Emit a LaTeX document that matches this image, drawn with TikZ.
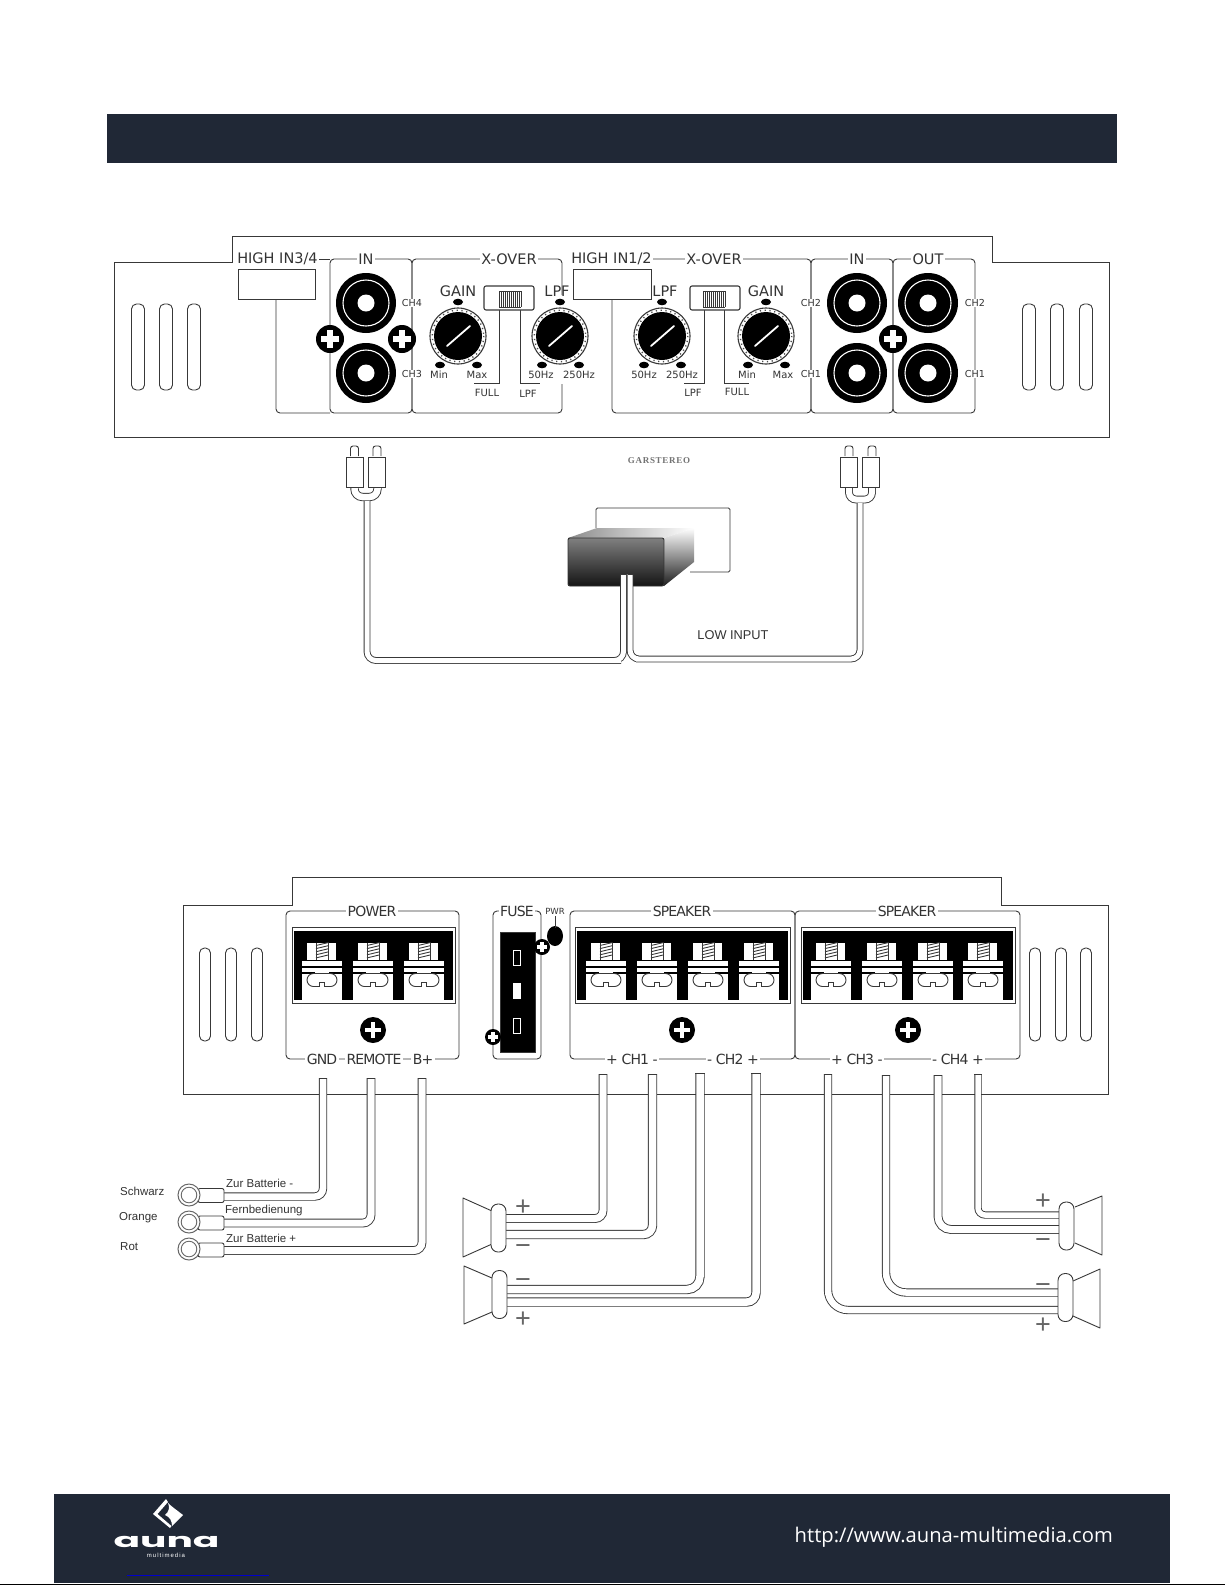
\documentclass[tikz,border=0pt]{standalone}
\usepackage{fontspec}
\setmainfont{DejaVu Sans}
\newfontfamily\vd{DejaVu Sans}
\newfontfamily\vdt[LetterSpace=-6]{DejaVu Sans}
\newfontfamily\arl{Liberation Sans}
\newfontfamily\opn{Open Sans}
\newfontfamily\popp{Poppins}
\newfontfamily\serf[LetterSpace=8]{Liberation Serif}
\definecolor{band}{HTML}{202836}
\definecolor{lc}{gray}{0.22}
\definecolor{tc}{gray}{0.2}
\tikzset{
  line/.style={draw=lc,line width=0.9pt},
  frame/.style={line,rounded corners=4pt},
  vent/.style={line,rounded corners=5pt},
  wire/.style={draw=lc,line width=0.9pt,double=white,double distance=#1},
  wire/.default=7pt,
  lab/.style={font=\vd\fontsize{14.5}{15}\selectfont,text=tc,fill=white,inner sep=1.5pt},
  labsm/.style={font=\vd\fontsize{10}{11}\selectfont,text=tc,inner sep=0.5pt},
  labch/.style={font=\vd\fontsize{9.6}{11}\selectfont,text=tc,fill=white,inner sep=0.5pt},
  labl/.style={font=\vdt\fontsize{14}{15}\selectfont,text=tc,fill=white,inner sep=1.5pt},
  note/.style={font=\arl\fontsize{11.5}{13}\selectfont,text=tc,inner sep=0pt,anchor=west},
  sign/.style={font=\arl\fontsize{27}{27}\selectfont,text=black!60,inner sep=0pt,anchor=base},
  magnet/.style={draw=lc,line width=0.9pt,fill=white,rounded corners=7pt,minimum width=15pt,minimum height=48pt,inner sep=0pt},
  ringt/.style={circle,draw=black!60,line width=1pt,fill=white,inner sep=0pt,minimum size=22pt},
}
\newcommand{\ventset}[6]{% x1 x2 x3 ytop ybot halfwidth
  \foreach \vx in {#1,#2,#3}{\draw[vent] ({\vx-#6},#4) rectangle ({\vx+#6},#5);}}
\newcommand{\screwhead}[3]{% x y r
  \fill[black] (#1,#2) circle (#3);
  \fill[white] ({#1-0.62*#3},{#2-0.19*#3}) rectangle ({#1+0.62*#3},{#2+0.19*#3});
  \fill[white] ({#1-0.19*#3},{#2-0.62*#3}) rectangle ({#1+0.19*#3},{#2+0.62*#3});}
\newcommand{\jack}[2]{%
  \fill[black] (#1,#2) circle (30);
  \draw[white,line width=1.1pt] (#1,#2) circle (23);
  \fill[white] (#1,#2) circle (8.5);}
\newcommand{\knob}[2]{%
  \draw[line,line width=1.1pt] (#1,#2) circle (28);
  \draw[black!70,line width=1.4pt,dash pattern=on 1.2pt off 3.6pt] (#1,#2) circle (25.8);
  \fill[black] (#1,#2) circle (24);
  \draw[white,line width=1.8pt,line cap=round] ({#1-11},{#2+10}) -- ({#1+12},{#2-10});
  \fill[black] (#1,{#2-34}) ellipse (5 and 3.3);
  \fill[black] ({#1-18},{#2+29}) ellipse (5 and 3.3);
  \fill[black] ({#1+19},{#2+29}) ellipse (5 and 3.3);}
\newcommand{\switchbox}[2]{% left x, slider left x
  \draw[frame,fill=white,rounded corners=2pt,line width=1.1pt] (#1,286) rectangle ({#1+50},310);
  \fill[white] (#2,291) rectangle ({#2+22},307);
  \foreach \k in {0,2,...,22}{\draw[lc,line width=0.8pt] ({#2+\k},291) -- ({#2+\k},307);}
  \draw[lc,line width=0.8pt] (#2,291) -- ({#2+22},291) (#2,307) -- ({#2+22},307);}
\newcommand{\terminal}[1]{%
  \fill[white] ({#1+4.5},942.5) rectangle ({#1+34},959.5);
  \foreach \k in {0,1,2,3,4}{\draw[lc,line width=0.9pt] ({#1+14},{945.5+3.1*\k}) -- ({#1+26.5},{942.5+3.1*\k});}
  \draw[lc,line width=0.7pt] ({#1+14},942.5) -- ({#1+14},959.5) ({#1+26.5},942.5) -- ({#1+26.5},959.5);
  \fill[white] (#1,960.5) rectangle ({#1+40},999.5);
  \draw[black,line width=1.2pt] (#1,967) -- ({#1+40},967);
  \draw[black,line width=1.2pt] (#1,973) -- ({#1+13},973) ({#1+27},973) -- ({#1+40},973);
  \draw[lc,line width=0.9pt,rounded corners=6.5pt] ({#1+17.5},986.5) -- ({#1+5},986.5) -- ({#1+5},973.5) -- ({#1+35},973.5) -- ({#1+35},986.5) -- ({#1+22.5},986.5);
  \draw[lc,line width=0.9pt] ({#1+17.5},986.5) -- ({#1+17.5},982) -- ({#1+22.5},982) -- ({#1+22.5},986.5);}
\newcommand{\block}[2]{% x1 x2
  \draw[line,fill=white] (#1,927) rectangle (#2,1003);
  \fill[black] ({#1+2},931) rectangle ({#2-2},1000);}
\newcommand{\rca}[2]{% rect left, tip left
  \draw[line,fill=white,rounded corners=2.5pt] (#2,456) -- (#2,446) -- ({#2+8},446) -- ({#2+8},456);
  \draw[line,fill=white] (#1,457) rectangle ({#1+17},487);}
\begin{document}
\begin{tikzpicture}[x=1pt,y=-1pt]
\useasboundingbox (0,0) rectangle (1225,1585);
\fill[white] (0,0) rectangle (1225,1585);
% header and footer bands
\fill[band] (107,114) rectangle (1117,163);
\fill[band] (54,1494) rectangle (1170,1583);
\draw[black,line width=0.9pt] (0,1584) -- (1225,1584);
\draw[blue!80!black,line width=0.9pt] (127,1575) -- (269,1575);
% ---------- upper panel
\draw[line] (114,262) -- (232,262) -- (232,236) -- (992,236) -- (992,262) -- (1109,262) -- (1109,437) -- (114,437) -- cycle;
\ventset{138}{166}{194}{304}{390}{6.5}
\ventset{1029}{1057}{1086}{304}{390}{6.5}
\draw[frame] (276,299) -- (276,413) -- (330,413);
\draw[line] (318,259) -- (330,259);
\draw[frame] (330,259) rectangle (412,413);
\draw[frame] (562,295) -- (562,259) -- (412,259) -- (412,413) -- (562,413) -- (562,384);
\draw[frame] (612,299) -- (612,413) -- (811,413) -- (811,259) -- (640,259);
\draw[frame] (811,259) rectangle (893,413);
\draw[frame] (893,259) rectangle (975,413);
\draw[line,fill=white] (238,269) rectangle (315,299);
\draw[line,fill=white] (573,269) rectangle (651,299);
\foreach \jx/\jy in {366/303,366/373,857/303,857/373,928/303,928/373}{\jack{\jx}{\jy}}
\screwhead{330}{339}{14}
\screwhead{402}{339}{14}
\screwhead{893}{339}{14}
\knob{458}{336}
\knob{560}{336}
\knob{662}{336}
\knob{766}{336}
\draw[line] (499,310) -- (499,383) -- (474,383);
\draw[line] (520,310) -- (520,383) -- (540,383);
\draw[line] (704,310) -- (704,383) -- (684,383);
\draw[line] (724,310) -- (724,383) -- (749,383);
\switchbox{484}{499}
\switchbox{690}{703}
\node[lab] (hi34) at (277.5,259) {HIGH IN3/4};
\node[lab] (in34) at (366,259) {IN};
\node[lab] (xo1) at (509,259) {X-OVER};
\node[lab] (hi12) at (611.5,259) {HIGH IN1/2};
\node[lab] (xo2) at (714,259) {X-OVER};
\node[lab] (in12) at (857,259) {IN};
\node[lab] (out12) at (928,259) {OUT};
\node[lab] (g1) at (458,291) {GAIN};
\node[lab,fill=none] (l1) at (557,291) {LPF};
\node[lab,fill=none] (l2) at (665,291) {LPF};
\node[lab] (g2) at (766,291) {GAIN};
\node[labch] (c4) at (412,303) {CH4};
\node[labch] (c3) at (412,374) {CH3};
\node[labch] (c2a) at (811,303) {CH2};
\node[labch] (c1a) at (811,374) {CH1};
\node[labch] (c2b) at (975,303) {CH2};
\node[labch] (c1b) at (975,374) {CH1};
\node[labsm] (mn1) at (439,375) {Min};
\node[labsm] (mx1) at (477,375) {Max};
\node[labsm] (h51) at (541,375) {50Hz};
\node[labsm] (h21) at (579,375) {250Hz};
\node[labsm] (f1) at (487,393) {FULL};
\node[labsm] (p1) at (528,394) {LPF};
\node[labsm] (h52) at (644,375) {50Hz};
\node[labsm] (h22) at (682,375) {250Hz};
\node[labsm] (mn2) at (747,375) {Min};
\node[labsm] (mx2) at (783,375) {Max};
\node[labsm] (p2) at (693,393) {LPF};
\node[labsm] (f2) at (737,392) {FULL};
\node[font=\serf\bfseries\fontsize{9}{10}\selectfont,text=black!55,inner sep=0pt] (gs) at (659,461) {GARSTEREO};
% ---------- head unit
\draw[line,rounded corners=1.5pt] (596,528) -- (596,508) -- (730,508) -- (730,572) -- (690,572);
\shade[left color=black!45,right color=white] (568,538) -- (597,528) -- (694,528) -- (664,538) -- cycle;
\shade[top color=white,bottom color=black!88] (664,538) -- (694,528) -- (694,562) -- (664,586) -- cycle;
\shade[top color=black!50,bottom color=black!92,rounded corners=2pt] (568,538) rectangle (664,586);
\draw[black!80,line width=0.9pt,rounded corners=2pt] (568,538) rectangle (664,586);
% ---------- RCA leads
\coordinate (rcaL) at (367,501);
\coordinate (rcaR) at (860,503);
\coordinate (radioL) at (623.5,574);
\coordinate (radioR) at (630,574);
\draw[wire=6.5pt,rounded corners=8pt] (354.5,487) -- (354.5,497) -- (377.5,497) -- (377.5,487);
\draw[wire=6pt,rounded corners=7pt] (849,488) -- (849,499.5) -- (872,499.5) -- (872,488);
\rca{346}{350.5}
\rca{368.5}{373}
\rca{840.5}{845}
\rca{862.5}{868}
\draw[wire=5pt,rounded corners=9pt] (rcaL) |- (612,660.5) -- (623.5,660.5) -- (radioL);
\draw[wire=5pt,rounded corners=9pt] (rcaR) |- (645,659) -- (630,659) -- (radioR);
\draw[line] (621,574) -- (626,574) (627.5,574) -- (632.5,574);
\node[font=\arl\fontsize{12.8}{14}\selectfont,text=tc,inner sep=0pt] (low) at (733,635) {LOW INPUT};
% ---------- lower panel
\draw[line] (183,905) -- (292,905) -- (292,877) -- (1001,877) -- (1001,905) -- (1108,905) -- (1108,1094) -- (183,1094) -- cycle;
\ventset{205}{231}{257}{948}{1041}{5.5}
\ventset{1035}{1061}{1086}{948}{1041}{5.5}
\draw[frame] (286,911) rectangle (459,1059);
\draw[frame] (493,911) rectangle (541,1059);
\draw[frame] (570,911) rectangle (795,1059);
\draw[frame] (795,911) rectangle (1020,1059);
\block{292}{455}
\block{575}{790}
\block{801}{1015}
\foreach \tx in {302,353,404,586,637,688,739,811,862,913,963}{\terminal{\tx}}
\draw[line,fill=black] (500,932) rectangle (535,1052);
\draw[white,line width=0.9pt] (513.5,950.5) rectangle (520.5,965);
\fill[white] (513,983) rectangle (521,999);
\draw[white,line width=0.9pt] (513.5,1018.5) rectangle (520.5,1033);
\screwhead{373}{1030}{13}
\screwhead{682}{1030}{13}
\screwhead{908}{1030}{13}
\screwhead{542}{947}{8}
\screwhead{493}{1037}{8}
\fill[black] (555,936) ellipse (8 and 10);
\draw[line] (555,916) -- (555,928);
\node[labl] (pw) at (372,911) {POWER};
\node[labl] (fu) at (517,911) {FUSE};
\node[font=\vd\fontsize{8.5}{9}\selectfont,text=tc,fill=white,inner sep=1pt] (pr) at (555,911) {PWR};
\node[labl] (sp1) at (682,911) {SPEAKER};
\node[labl] (sp2) at (907,911) {SPEAKER};
\node[labl] (gnd) at (322,1059) {GND};
\node[labl] (rem) at (374,1059) {REMOTE};
\node[labl] (bp) at (423,1059) {B+};
\node[labl] (c1) at (632,1059) {+ CH1 -};
\node[labl] (c2) at (733,1059) {- CH2 +};
\node[labl] (c3l) at (857,1059) {+ CH3 -};
\node[labl] (c4l) at (958,1059) {- CH4 +};
% ---------- power wires
\coordinate (gT) at (323,1078);  \coordinate (gE) at (224,1196.5);
\coordinate (rT) at (371,1078);  \coordinate (rE) at (224,1223);
\coordinate (bT) at (422,1078);  \coordinate (bE) at (224,1250.5);
\draw[wire=6.5pt,rounded corners=8pt] (gT) |- (gE);
\draw[wire=7pt,rounded corners=8pt] (rT) |- (rE);
\draw[wire=7pt,rounded corners=8pt] (bT) |- (bE);
\draw[line] (319,1078) -- (327,1078) (367,1078) -- (375,1078) (418,1078) -- (426,1078);
\foreach \ry in {1195.5,1223,1250}{\draw[line,fill=white,rounded corners=2pt] (198,{\ry-7}) rectangle (224,{\ry+7});}
\node[ringt] (rg1) at (189,1195) {};
\node[ringt] (rg2) at (189,1222) {};
\node[ringt] (rg3) at (189,1249) {};
\foreach \ry in {1195,1222,1249}{\draw[black!60,line width=0.9pt] (189,\ry) circle (7.8);}
\node[note] (n1) at (120,1191) {Schwarz};
\node[note] (n2) at (119,1218) {Orange};
\node[note] (n3) at (120,1247) {Rot};
\node[note] (n4) at (226,1183) {Zur Batterie -};
\node[note] (n5) at (225,1211) {Fernbedienung};
\node[note] (n6) at (226,1238) {Zur Batterie +};
% ---------- speaker wires
\coordinate (s1T) at (603,1074); \coordinate (s1E) at (506,1218.5);
\coordinate (s2T) at (652.5,1074); \coordinate (s2E) at (506,1234.5);
\coordinate (s3T) at (700,1073); \coordinate (s3E) at (507,1289.5);
\coordinate (s4T) at (756,1073); \coordinate (s4E) at (507,1302);
\coordinate (s5T) at (828,1074); \coordinate (s5E) at (1058,1310);
\coordinate (s6T) at (886,1075); \coordinate (s6E) at (1058,1292.5);
\coordinate (s7T) at (938,1075); \coordinate (s7E) at (1059,1229.5);
\coordinate (s8T) at (978,1074); \coordinate (s8E) at (1059,1215);
\draw[wire=7pt,rounded corners=8pt] (s1T) |- (s1E);
\draw[wire=7.5pt,rounded corners=9pt] (s2T) |- (s2E);
\draw[wire=7.5pt,rounded corners=13pt] (s3T) |- (s3E);
\draw[wire=7.5pt,rounded corners=9pt] (s4T) |- (s4E);
\draw[wire=6.5pt,rounded corners=20pt] (s5T) |- (s5E);
\draw[wire=6.5pt,rounded corners=20pt] (s6T) |- (s6E);
\draw[wire=7pt,rounded corners=13pt] (s7T) |- (s7E);
\draw[wire=5.5pt,rounded corners=7pt] (s8T) |- (s8E);
\draw[line] (599,1074) -- (607,1074) (648,1074) -- (657,1074) (695,1073) -- (705,1073) (751,1073) -- (761,1073)
  (824,1074) -- (832,1074) (882,1075) -- (890,1075) (934,1075) -- (942,1075) (974,1074) -- (982,1074);
% ---------- speakers
\draw[line,line join=round] (492,1211) -- (463,1198) -- (463,1257) -- (492,1244);
\draw[line,line join=round] (492,1278) -- (464,1266) -- (464,1324) -- (492,1312);
\draw[line,line join=round] (1075,1207) -- (1102,1196) -- (1102,1255) -- (1075,1243);
\draw[line,line join=round] (1073,1281) -- (1100,1269) -- (1100,1328) -- (1073,1316);
\node[magnet] (spA) at (498.5,1228) {};
\node[magnet] (spB) at (499.5,1294.5) {};
\node[magnet] (spC) at (1066.5,1226) {};
\node[magnet] (spD) at (1065.5,1297.5) {};
\node[sign] (a1) at (523,1215) {+};
\node[sign] (a2) at (523,1254) {−};
\node[sign] (b1) at (523,1288) {−};
\node[sign] (b2) at (523,1327) {+};
\node[sign] (c1s) at (1043,1209) {+};
\node[sign] (c2s) at (1043,1248) {−};
\node[sign] (d1) at (1043,1293) {−};
\node[sign] (d2) at (1043,1333) {+};
% ---------- footer
\fill[white] (168,1503) .. controls (172,1507) and (178,1511) .. (183,1515) -- (172,1526) .. controls (172,1521) and (170,1517) .. (165,1515) .. controls (169,1512) and (170,1507) .. (168,1503) -- cycle;
\fill[white] (166,1499) -- (153,1514) -- (170,1528) -- (171.5,1526) -- (157.5,1514) -- (168,1502) -- cycle;
\node[font=\popp\bfseries\fontsize{22}{22}\selectfont,text=white,inner sep=0pt,xscale=1.78,yscale=0.9] (auna) at (166.5,1542) {auna};
\node[font=\arl\fontsize{6}{7}\selectfont,text=white,inner sep=0pt] (mm) at (166,1555) {m\,u\,l\,t\,i\,m\,e\,d\,i\,a};
\node[font=\opn\fontsize{20.2}{22}\selectfont,text=white,inner sep=0pt,anchor=east] (url) at (1113,1537) {http://www.auna-multimedia.com};
\end{tikzpicture}
\end{document}
